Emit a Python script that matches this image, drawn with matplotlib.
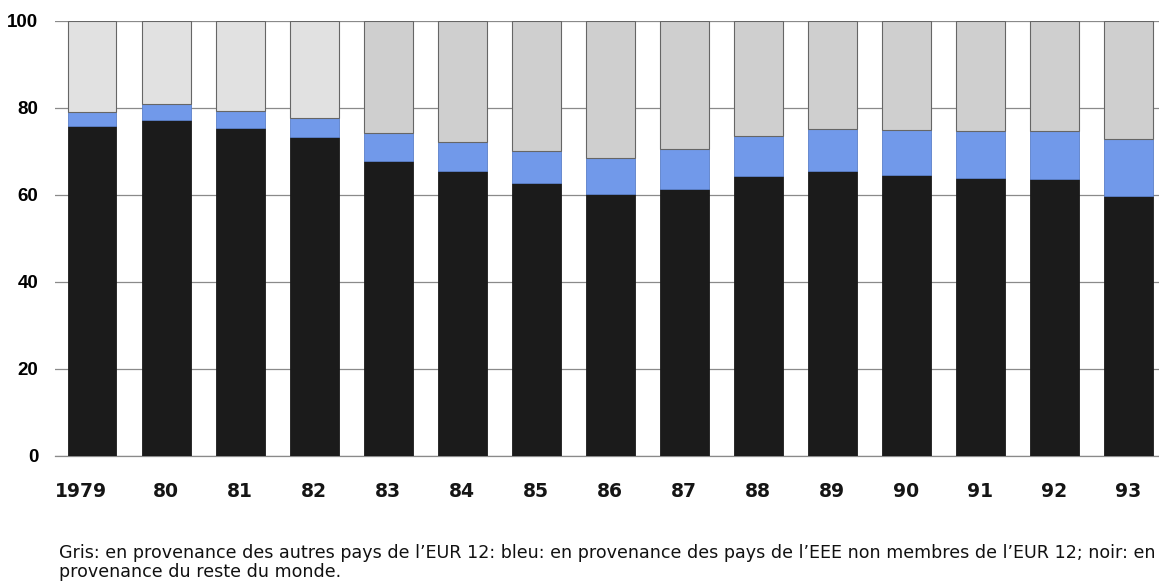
import matplotlib.pyplot as plt
import matplotlib.transforms as mtransforms
import numpy as np

years = ["1979", "80", "81", "82", "83", "84", "85", "86", "87", "88",
         "89", "90", "91", "92", "93"]
# share (%) from the rest of the world (black)
noir = [75.9, 77.2, 75.3, 73.4, 67.9, 65.4, 62.8, 60.2, 61.3, 64.4,
        65.4, 64.6, 64.0, 63.7, 59.8]
# share (%) from EEA countries outside EUR 12 (blue)
bleu = [3.1, 3.6, 3.9, 4.2, 6.3, 6.7, 7.2, 8.4, 9.2, 9.2,
        9.8, 10.3, 10.8, 11.1, 13.1]
# share (%) from the other EUR 12 countries (grey)
gris = [100 - n - b for n, b in zip(noir, bleu)]

caption = ("Gris: en provenance des autres pays de l\u2019EUR 12: bleu: en provenance "
           "des pays de l\u2019EEE non membres de l\u2019EUR 12; noir: en\n"
           "provenance du reste du monde.")

plt.rcParams["font.family"] = ["Liberation Sans", "DejaVu Sans"]

fig = plt.figure(figsize=(11.59, 5.83), dpi=100)
ax = fig.add_axes([0.0475, 0.218, 0.958, 0.746])

x = np.arange(len(years))
w = 0.66
grey_cols = ["#e1e1e1"] * 4 + ["#cfcfcf"] * (len(years) - 4)
ax.bar(x, noir, w, color="#1b1b1b", edgecolor="#1b1b1b", linewidth=0.6, zorder=3)
ax.bar(x, bleu, w, bottom=noir, color="#7199ea", edgecolor="#5a7fc8",
       linewidth=0.6, zorder=3)
ax.bar(x, gris, w, bottom=np.array(noir) + np.array(bleu), color=grey_cols,
       edgecolor="#666666", linewidth=0.8, zorder=3)

ax.set_xlim(-0.5, 14.5)
ax.set_ylim(0, 100)
ax.set_yticks([0, 20, 40, 60, 80, 100])
ax.yaxis.grid(True, color="#8a8a8a", linewidth=0.9, zorder=0)
ax.set_axisbelow(True)
for s in ["top", "right", "left"]:
    ax.spines[s].set_visible(False)
ax.spines["bottom"].set_color("#8a8a8a")
ax.spines["bottom"].set_linewidth(0.9)

ax.set_xticks(x)
ax.set_xticklabels(years, fontsize=13.5, fontweight="bold", family="DejaVu Sans",
                   color="#151515")
ax.tick_params(axis="x", length=0, pad=19)
ax.tick_params(axis="y", length=0, pad=12, labelsize=13.5)
for t in ax.get_yticklabels():
    t.set_fontweight("bold")
# the first year label sits a little left of its bar
lab0 = ax.get_xticklabels()[0]
lab0.set_transform(lab0.get_transform() +
                   mtransforms.ScaledTranslation(-11.5 / 100, 0, fig.dpi_scale_trans))

fig.text(0.051, 0.004, caption, fontsize=12.6, ha="left", va="bottom",
         family="DejaVu Sans", linespacing=1.05, color="#111111")

fig.savefig("out.png", dpi=100, facecolor="white")
